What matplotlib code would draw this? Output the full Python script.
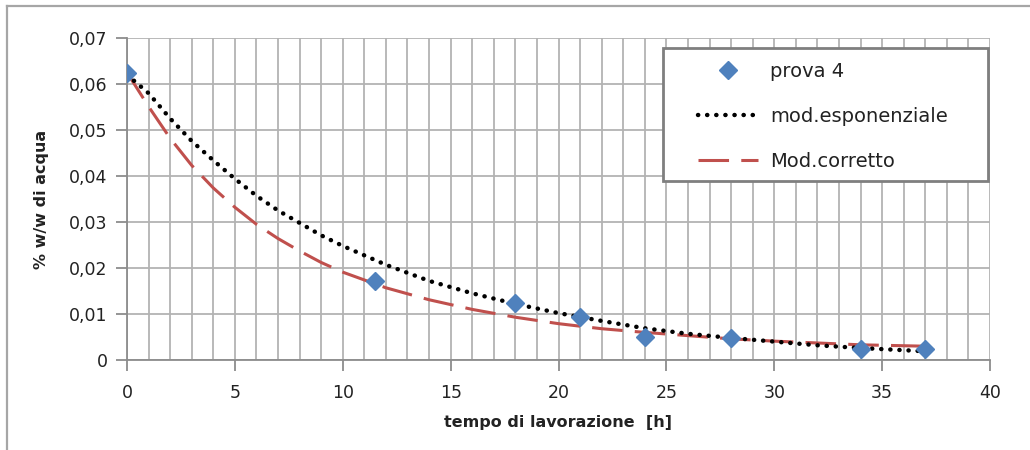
import numpy as np
import matplotlib.pyplot as plt
from matplotlib.lines import Line2D
from matplotlib.patches import Rectangle
from matplotlib.ticker import MultipleLocator, FuncFormatter

# misure prova 4
t_prova = [0, 11.5, 18, 21, 24, 28, 34, 37]
w_prova = [0.0624, 0.0172, 0.0125, 0.0093, 0.0051, 0.0047, 0.0024, 0.0023]

# curve dei modelli
t_mod = [0, 1, 2, 3, 4, 5, 6, 7, 8, 9, 10, 12, 14, 16, 18, 20, 22, 24, 26, 28, 30, 32, 34, 37]
w_esp = [0.0620, 0.0580, 0.0525, 0.0476, 0.0434, 0.0394, 0.0357, 0.0325, 0.0298, 0.0271,
         0.0248, 0.0207, 0.0172, 0.0145, 0.0122, 0.0102, 0.0085, 0.0069, 0.0057, 0.0048,
         0.0040, 0.0032, 0.0026, 0.0019]
w_corr = [0.0625, 0.0551, 0.0482, 0.0423, 0.0374, 0.0332, 0.0295, 0.0264, 0.0237, 0.0212,
          0.0191, 0.0157, 0.0131, 0.0110, 0.0093, 0.0079, 0.0068, 0.0060, 0.0053, 0.0046,
          0.0041, 0.0037, 0.0033, 0.0030]

plt.rcParams['font.family'] = ['DejaVu Sans']
txt = '#222222'
grid_col = '#b3b3b3'

W, H = 1030, 450
x0, x1, y0, y1 = 127, 990, 38, 360   # area del grafico in pixel
fig = plt.figure(figsize=(W / 100, H / 100), dpi=100)
ax = fig.add_axes([x0 / W, 1 - y1 / H, (x1 - x0) / W, (y1 - y0) / H])

def px2ax(px, py):
    return (px - x0) / (x1 - x0), (y1 - py) / (y1 - y0)

# cornice esterna (solo lato sinistro e superiore)
fig.add_artist(Line2D([7 / W, 1], [1 - 6 / H, 1 - 6 / H], color='#a6a6a6', lw=1.6))
fig.add_artist(Line2D([7 / W, 7 / W], [0, 1 - 6 / H], color='#a6a6a6', lw=1.6))

ax.plot(t_mod, w_corr, color='#C0504D', lw=2.2, dashes=(10, 4), zorder=3, label='Mod.corretto')
ax.plot(t_mod, w_esp, color='black', lw=3.2, linestyle=(0, (0.05, 2.0)),
        dash_capstyle='round', zorder=4, label='mod.esponenziale')
ax.plot(t_prova, w_prova, linestyle='none', marker='D', ms=9, color='#4F81BD', zorder=5,
        label='prova 4')

ax.set_xlim(0, 40)
ax.set_ylim(0, 0.07)
ax.xaxis.set_major_locator(MultipleLocator(5))
ax.xaxis.set_minor_locator(MultipleLocator(1))
ax.yaxis.set_major_locator(MultipleLocator(0.01))
ax.yaxis.set_major_formatter(FuncFormatter(lambda v, p: '0' if abs(v) < 1e-9 else f'{v:.2f}'.replace('.', ',')))
ax.xaxis.set_major_formatter(FuncFormatter(lambda v, p: f'{v:.0f}'))

ax.grid(which='both', axis='x', color=grid_col, lw=1.3)
ax.grid(which='major', axis='y', color=grid_col, lw=1.3)
ax.set_axisbelow(True)
for s in ['top', 'right']:
    ax.spines[s].set_visible(False)
for s in ['left', 'bottom']:
    ax.spines[s].set_color('#8c8c8c')
    ax.spines[s].set_linewidth(1.3)
ax.tick_params(which='major', length=8, width=1.3, color='#8c8c8c', labelsize=12.5,
               labelcolor=txt, pad=6)
ax.tick_params(which='minor', length=0)
ax.tick_params(axis='x', pad=9)

ax.set_xlabel('tempo di lavorazione  [h]', fontsize=11.5, fontweight='bold', color=txt, labelpad=10)
ax.set_ylabel('% w/w di acqua', fontsize=11.5, fontweight='bold', color=txt, labelpad=14)

# riquadro della legenda disegnato a parte (più largo del contenuto)
bx0, by0 = px2ax(663, 181)
bx1, by1 = px2ax(988, 48)
ax.add_patch(Rectangle((bx0, by0), bx1 - bx0, by1 - by0, transform=ax.transAxes,
                       facecolor='white', edgecolor='#7f7f7f', lw=2, zorder=6, clip_on=False))

handles, labels = ax.get_legend_handles_labels()
order = [2, 1, 0]
leg = ax.legend([handles[i] for i in order], [labels[i] for i in order],
                loc='upper left', bbox_to_anchor=px2ax(698, 62), fontsize=14,
                handlelength=3.1, labelspacing=1.33, borderpad=0, handletextpad=0.6,
                borderaxespad=0, frameon=False)
leg.set_zorder(7)
for t in leg.get_texts():
    t.set_color(txt)

fig.savefig('out.png', dpi=100)
